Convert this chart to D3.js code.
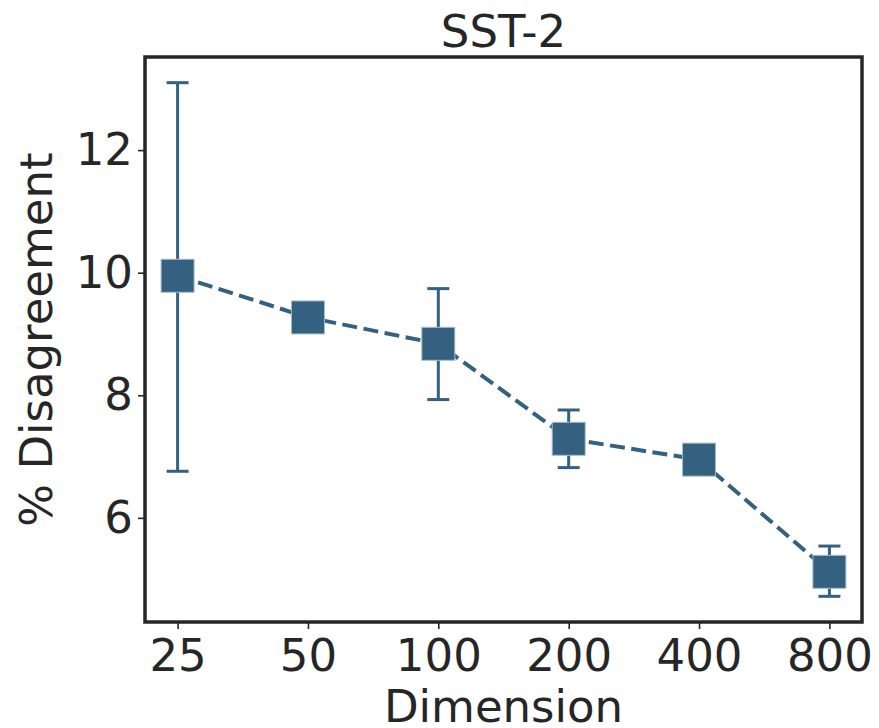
<!doctype html>
<html>
<head>
<script src="https://cdn.jsdelivr.net/npm/d3@7"></script>
<style>
  body { margin: 0; background: #fff; }
  text { font-family: "DejaVu Sans", sans-serif; fill: #262626; }
</style>
</head>
<body>
<svg width="879" height="728"></svg>
<script>
var dims = ["25", "50", "100", "200", "400", "800"];
var means = [9.95, 9.27, 8.84, 7.29, 6.95, 5.12];
var lows = [6.76, 9.25, 7.93, 6.82, 6.93, 4.72];
var highs = [13.10, 9.29, 9.74, 7.76, 6.97, 5.54];
var yTicks = [6, 8, 10, 12];

var color = "#33617f";
var fs = "45px";
var svg = d3.select("svg");
var pl = 145, pr = 862, pt = 57, pb = 622;

var x = d3.scaleLinear().domain([-0.25, dims.length - 0.75]).range([pl, pr]);
var lo = d3.min(lows), hi = d3.max(highs), pad = (hi - lo) * 0.05;
var y = d3.scaleLinear().domain([lo - pad, hi + pad]).range([pb, pt]);

var data = dims.map((d, i) => ({ i: i, m: means[i], lo: lows[i], hi: highs[i] }));

// axes
var xAxis = svg.append("g").attr("transform", "translate(0," + pb + ")")
  .call(d3.axisBottom(x).tickValues(d3.range(dims.length)).tickFormat(i => dims[i]).tickSize(7).tickPadding(10));
var yAxis = svg.append("g").attr("transform", "translate(" + pl + ",0)")
  .call(d3.axisLeft(y).tickValues(yTicks).tickSize(7).tickPadding(5));
[xAxis, yAxis].forEach(a => {
  a.select(".domain").remove();
  a.selectAll("line").attr("stroke", "#262626").attr("stroke-width", 1.6);
  a.selectAll("text").style("font-size", fs).attr("fill", "#262626");
});

// frame
svg.append("rect").attr("x", pl).attr("y", pt)
  .attr("width", pr - pl).attr("height", pb - pt)
  .attr("fill", "none").attr("stroke", "#262626").attr("stroke-width", 3.5);

// dashed line
svg.append("path").datum(data)
  .attr("d", d3.line().x(d => x(d.i)).y(d => y(d.m)))
  .attr("fill", "none").attr("stroke", color).attr("stroke-width", 4)
  .attr("stroke-dasharray", "15,6.5");

// error bars
var eb = svg.append("g").attr("stroke", color).attr("stroke-width", 3);
eb.selectAll(".v").data(data).enter().append("line")
  .attr("x1", d => x(d.i)).attr("x2", d => x(d.i))
  .attr("y1", d => y(d.lo)).attr("y2", d => y(d.hi));
["lo", "hi"].forEach(k => {
  eb.selectAll(".c" + k).data(data).enter().append("line")
    .attr("x1", d => x(d.i) - 11).attr("x2", d => x(d.i) + 11)
    .attr("y1", d => y(d[k])).attr("y2", d => y(d[k]));
});

// markers
var ms = 33;
svg.selectAll(".mk").data(data).enter().append("rect")
  .attr("x", d => x(d.i) - ms / 2).attr("y", d => y(d.m) - ms / 2)
  .attr("width", ms).attr("height", ms)
  .attr("fill", color).attr("stroke", "#a9bccb").attr("stroke-width", 1);

// labels
svg.append("text").attr("x", (pl + pr) / 2).attr("y", 47)
  .attr("text-anchor", "middle").style("font-size", fs).text("SST-2");
svg.append("text").attr("x", (pl + pr) / 2).attr("y", 722)
  .attr("text-anchor", "middle").style("font-size", fs).text("Dimension");
svg.append("text").attr("transform", "translate(52," + (pt + pb) / 2 + ") rotate(-90)")
  .attr("text-anchor", "middle").style("font-size", fs).text("% Disagreement");
</script>
</body>
</html>
